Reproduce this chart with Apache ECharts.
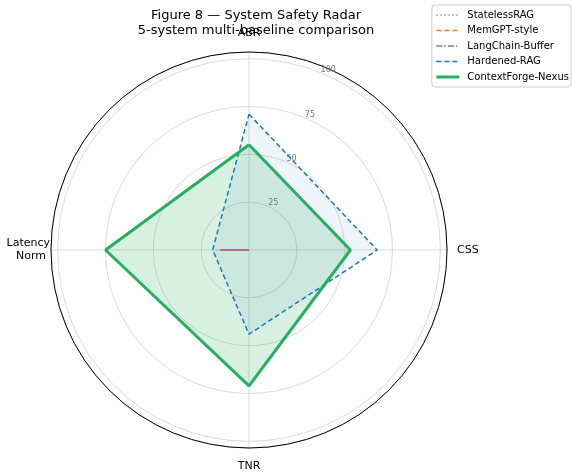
<!DOCTYPE html>
<html>
<head>
<meta charset="utf-8">
<script src="https://cdn.jsdelivr.net/npm/echarts@6/dist/echarts.min.js"></script>
<style>
  html, body { margin: 0; padding: 0; background: #fff; }
  #chart { width: 572px; height: 473px; }
</style>
</head>
<body>
<div id="chart"></div>
<script>
'use strict';

// axes of the radar, clockwise from the top
var categories = ['ABR', 'CSS', 'TNR', 'Latency\nNorm'];
var radiusTicks = [25, 50, 75, 100];

// scores per system, same order as categories
var statelessRag = [0, 0, 0, 17];
var memGptStyle = [0, 0, 0, 15];
var langChainBuffer = [0, 0, 0, 15];
var hardenedRag = [71, 67, 44, 19];
var contextForge = [55, 53, 71, 75];

var systems = [
    {name: 'StatelessRAG', values: statelessRag, color: '#999999', type: [1.5, 2.5], width: 1.5, fill: 0},
    {name: 'MemGPT-style', values: memGptStyle, color: '#ff7f0e', type: [5, 3], width: 1.5, fill: 0},
    {name: 'LangChain-Buffer', values: langChainBuffer, color: '#9467bd', type: [6, 2, 1.5, 2], width: 1.5, fill: 0},
    {name: 'Hardened-RAG', values: hardenedRag, color: '#1f77b4', type: [5, 3], width: 1.5, fill: 0.07},
    {name: 'ContextForge-Nexus', values: contextForge, color: '#27ae60', type: 'solid', width: 3, fill: 0.18}
];

var chart = echarts.init(document.getElementById('chart'));

var angleStep = 360 / categories.length;
var rMax = 103.5;
var center = [249, 250];
var outerRadius = 198;

// per-direction gap between the outer circle and the category label
var labelRich = {
    top: {fontSize: 11, color: '#000', padding: [0, 0, 13, 0]},
    right: {fontSize: 11, color: '#000', padding: [0, 0, 0, 10]},
    bottom: {fontSize: 11, color: '#000', padding: [13, 0, 0, 0]},
    left: {fontSize: 11, color: '#000', lineHeight: 13, padding: [0, 1, 0, 0]},
    left2: {fontSize: 11, color: '#000', lineHeight: 13, padding: [0, 5, 0, 0]}
};
var labelSide = ['top', 'right', 'bottom', 'left'];

var series = systems.map(function (s) {
    var data = s.values.map(function (v, i) {
        return [v, i * angleStep];
    });
    data.push([s.values[0], 0]); // close the polygon
    return {
        name: s.name,
        type: 'line',
        coordinateSystem: 'polar',
        polarIndex: 0,
        data: data,
        symbol: 'none',
        animation: false,
        itemStyle: {color: s.color},
        lineStyle: {color: s.color, type: s.type, width: s.width},
        areaStyle: s.fill > 0 ? {color: s.color, opacity: s.fill} : null
    };
});

var option = {
    backgroundColor: '#fff',
    textStyle: {fontFamily: 'DejaVu Sans'},
    title: {
        text: 'Figure 8 \u2014 System Safety Radar\n5-system multi-baseline comparison',
        left: 251,
        top: 3,
        textAlign: 'center',
        textStyle: {fontSize: 13, fontWeight: 'normal', color: '#000', lineHeight: 15, fontFamily: 'DejaVu Sans'}
    },
    legend: {
        orient: 'vertical',
        right: 1,
        top: 5,
        itemGap: 5.5,
        itemWidth: 23,
        itemHeight: 10,
        padding: [5, 2, 5, 3],
        borderColor: '#cccccc',
        borderWidth: 1,
        borderRadius: 3,
        itemStyle: {opacity: 0},
        textStyle: {fontSize: 10, color: '#000', fontFamily: 'DejaVu Sans', padding: [0, 0, 0, 3]},
        data: systems.map(function (s) {
            return {name: s.name, lineStyle: {width: s.width, color: s.color, type: s.type}};
        })
    },
    polar: [
        {center: center, radius: outerRadius},
        {center: center, radius: outerRadius}
    ],
    angleAxis: [
        {
            polarIndex: 0,
            type: 'value',
            min: 0,
            max: 360,
            interval: angleStep,
            startAngle: 90,
            clockwise: true,
            axisLine: {lineStyle: {color: '#000', width: 1}},
            axisTick: {show: false},
            splitLine: {lineStyle: {color: '#d0d0d0', width: 0.8}},
            axisLabel: {
                fontSize: 11,
                color: '#000',
                margin: 0,
                rich: labelRich,
                formatter: function (v) {
                    var idx = Math.round(v / angleStep) % categories.length;
                    var side = labelSide[idx];
                    var lines = categories[idx].split('\n');
                    return lines.map(function (line, k) {
                        return '{' + (k > 0 ? side + '2' : side) + '|' + line + '}';
                    }).join('\n');
                }
            }
        },
        {
            // only used to place the radial tick labels 22.5 deg off the top axis
            polarIndex: 1,
            type: 'value',
            min: 0,
            max: 360,
            startAngle: 67.5,
            clockwise: true,
            show: false
        }
    ],
    radiusAxis: [
        {
            polarIndex: 0,
            type: 'value',
            min: 0,
            max: rMax,
            interval: radiusTicks[1] - radiusTicks[0],
            axisLine: {show: false},
            axisTick: {show: false},
            axisLabel: {show: false},
            splitLine: {lineStyle: {color: '#d0d0d0', width: 0.8}}
        },
        {
            polarIndex: 1,
            type: 'value',
            min: 0,
            max: rMax,
            interval: radiusTicks[1] - radiusTicks[0],
            axisLine: {show: false},
            axisTick: {show: false},
            splitLine: {show: false},
            axisLabel: {
                showMinLabel: false,
                showMaxLabel: false,
                margin: 0,
                align: 'center',
                verticalAlign: 'middle',
                rich: {
                    r: {fontSize: 8, color: '#777', padding: [0, 0, 6, 12]}
                },
                formatter: function (v) {
                    return '{r|' + v + '}';
                }
            }
        }
    ],
    series: series
};

chart.setOption(option);
</script>
</body>
</html>
